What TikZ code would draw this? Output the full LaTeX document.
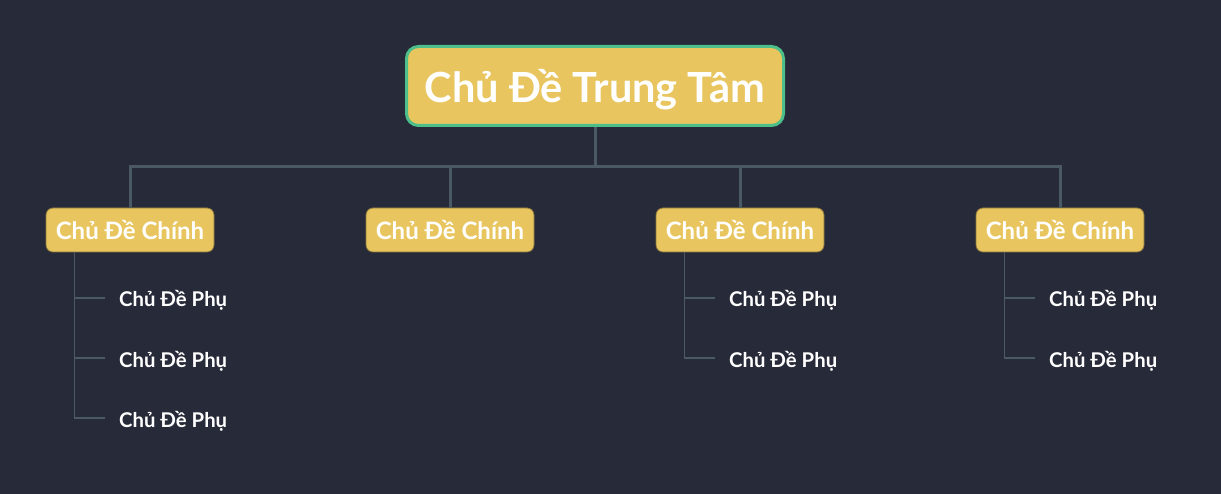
\documentclass[tikz,border=0pt]{standalone}
\usepackage{fontspec}
\setmainfont{Lato}
\usetikzlibrary{positioning}
\definecolor{bgdark}{HTML}{272A39}
\definecolor{topicgold}{HTML}{E8C55E}
\definecolor{rootgreen}{HTML}{4DBF8A}
\definecolor{linkgrey}{HTML}{4A5963}
\definecolor{boxedge}{HTML}{8A7840}

\begin{document}
\begin{tikzpicture}[x=1pt, y=-1pt,
  root/.style={fill=topicgold, draw=rootgreen, line width=3pt, rounded corners=12pt,
    minimum width=377pt, minimum height=79pt, text=white, text depth=0pt,
    font=\bfseries\fontsize{41.5}{44}\selectfont},
  maintopic/.style={fill=topicgold, draw=boxedge, line width=0.8pt, rounded corners=7pt,
    minimum width=168pt, minimum height=44pt, text=white, inner sep=0pt,
    font=\bfseries\fontsize{24}{26}\selectfont},
  subtopic/.style={anchor=base west, inner sep=0pt, text=white,
    font=\bfseries\fontsize{20.3}{22}\selectfont},
  trunk/.style={linkgrey, line width=3pt},
  twig/.style={linkgrey, line width=1.5pt}]

% Background
\fill[bgdark] (0,0) rectangle (1221,494);

% === CENTRAL TOPIC ===
\node[root] (root) at (595,86) {Chủ Đề Trung Tâm};

% === MAIN TOPICS ===
\foreach \name/\x in {m1/130, m2/450, m3/740, m4/1060} {
  \node[maintopic] (\name) at (\x,230) {Chủ Đề Chính};
}

% === TRUNK CONNECTORS ===
\coordinate (hub) at (595,167);
\draw[trunk] (root.south) -- (hub);
\draw[trunk] (m1.north) |- (hub) -| (m4.north);
\draw[trunk] (m2.north) -- (m2.north |- hub);
\draw[trunk] (m3.north) -- (m3.north |- hub);

% === SUBTOPICS ===
\foreach \name/\x in {m1/119, m3/729, m4/1049} {
  \coordinate (\name stem) at ([xshift=29pt]\name.south west);
  \node[subtopic] (\name s1) at (\x,307) {Chủ Đề Phụ};
  \node[subtopic] (\name s2) at (\x,367) {Chủ Đề Phụ};
  \draw[twig] (\name stem) |- ([xshift=-14pt,yshift=9pt]\name s1.base west);
  \draw[twig] (\name stem) |- ([xshift=-14pt,yshift=9pt]\name s2.base west);
}
\node[subtopic] (m1s3) at (119,427) {Chủ Đề Phụ};
\draw[twig] (m1stem) |- ([xshift=-14pt,yshift=9pt]m1s3.base west);

\end{tikzpicture}
\end{document}
